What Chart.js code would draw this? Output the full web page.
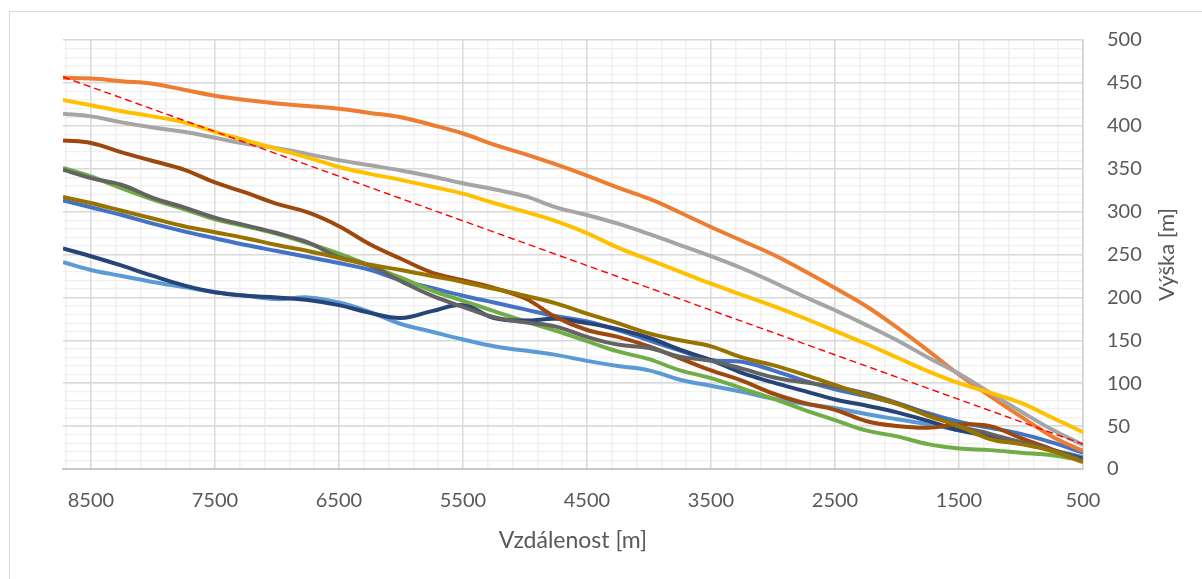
<!DOCTYPE html>
<html>
<head>
<meta charset="utf-8">
<title>Výška / vzdálenost</title>
<script src="https://cdn.jsdelivr.net/npm/chart.js@4.4.1/dist/chart.umd.min.js"></script>
<style>
  html, body { margin: 0; padding: 0; background: #fff; }
  #wrap { width: 1202px; height: 579px; }
</style>
</head>
<body>
<div id="wrap"><canvas id="c" width="1202" height="579"></canvas></div>
<script>
// distance along the profile [m] - axis runs from 8725 (left) down to 500 (right)
const distances = [8725, 8500, 8250, 8000, 7750, 7500, 7250, 7000, 6750, 6500, 6250, 6000,
  5750, 5500, 5250, 5000, 4750, 4500, 4250, 4000, 3750, 3500, 3250, 3000, 2750, 2500,
  2250, 2000, 1750, 1500, 1250, 1000, 750, 500];

// heights [m], one array per profile
const profile1 = [313, 305, 296, 286, 277, 269, 261, 254, 247, 240, 232, 220, 211, 202, 194, 186, 178,
  172, 162, 150, 138, 127, 125, 115, 103, 93, 85, 76, 65, 55, 48, 41, 31, 19];
const profile2 = [456, 455, 452, 449, 442, 435, 430, 426, 423, 420, 415, 410, 401, 391, 378, 367, 355,
  342, 328, 315, 299, 282, 266, 250, 231, 211, 190, 165, 138, 110, 85, 61, 38, 21];
const profile3 = [414, 411, 404, 398, 393, 386, 379, 374, 367, 360, 354, 348, 341, 333, 326, 318, 305,
  296, 286, 274, 261, 248, 234, 218, 201, 185, 168, 150, 130, 111, 89, 67, 46, 28];
const profile4 = [430, 424, 417, 411, 404, 393, 383, 373, 363, 352, 344, 337, 329, 321, 310, 300, 289,
  275, 258, 244, 230, 216, 203, 190, 176, 161, 146, 130, 114, 100, 89, 77, 60, 43];
const profile5 = [241, 232, 225, 218, 212, 206, 202, 198, 200, 194, 183, 169, 160, 151, 143, 138, 133,
  126, 120, 115, 104, 97, 90, 82, 76, 71, 64, 58, 52, 45, 37, 30, 22, 14];
const profile6 = [351, 341, 327, 314, 303, 291, 283, 274, 263, 251, 237, 223, 208, 196, 184, 172, 161,
  149, 137, 128, 115, 106, 94, 82, 69, 57, 45, 38, 29, 24, 22, 19, 16, 10];
const profile7 = [257, 248, 237, 225, 214, 206, 202, 200, 197, 191, 182, 176, 184, 191, 176, 173, 175,
  170, 163, 153, 139, 127, 112, 101, 91, 81, 74, 66, 56, 45, 39, 31, 22, 12];
const profile8 = [383, 380, 369, 359, 349, 334, 322, 309, 299, 283, 262, 245, 229, 220, 211, 199, 177,
  162, 154, 143, 129, 115, 103, 88, 77, 69, 56, 50, 48, 52, 50, 36, 23, 10];
const profile9 = [349, 339, 331, 316, 305, 293, 284, 275, 264, 247, 237, 219, 202, 189, 177, 171, 166,
  154, 145, 141, 131, 126, 117, 107, 101, 96, 88, 77, 64, 50, 41, 31, 22, 10];
const profile10 = [317, 310, 301, 292, 283, 276, 269, 261, 254, 246, 238, 232, 225, 218, 210, 202, 193,
  181, 170, 158, 150, 143, 130, 121, 110, 98, 86, 76, 62, 50, 35, 29, 21, 8];

// red dashed reference line (start / end)
const refDistances = [8725, 500];
const refHeights = [457, 29];

// axis ticks: labelled every 1000 m / 50 m, light grid every 200 m / 10 m
const xTicks = [];
for (let v = 500; v <= 8700; v += 200) xTicks.push(v);
const yMajorTicks = [0, 50, 100, 150, 200, 250, 300, 350, 400, 450, 500];
const yMinorTicks = [];
for (let v = 0; v <= 500; v += 10) yMinorTicks.push(v);
const isMajorX = v => (v - 500) % 1000 === 0;

const profiles = [profile1, profile2, profile3, profile4, profile5, profile6, profile7, profile8, profile9, profile10];
const colors = ['#4472C4', '#ED7D31', '#A5A5A5', '#FFC000', '#5B9BD5', '#70AD47', '#264478', '#9E480E', '#636363', '#997300'];

const FONT = 'Lato, "Open Sans", sans-serif';
const TEXT = '#595959';
const MAJOR = '#d9d9d9';
const MINOR = '#f0f0f0';
Chart.defaults.font.family = FONT;

const toPoints = (xs, ys) => xs.map((x, i) => ({ x, y: ys[i] }));

const datasets = profiles.map((vals, i) => ({
  label: 'Profil ' + (i + 1),
  data: toPoints(distances, vals),
  borderColor: colors[i],
  backgroundColor: colors[i],
  borderWidth: 4,
  tension: 0.4,
  pointRadius: 0,
  fill: false,
  order: 20 - i          // later series on top, like the original
}));
datasets.push({
  label: 'Spojnice',
  data: toPoints(refDistances, refHeights),
  borderColor: '#FF0000',
  borderWidth: 1.4,
  borderDash: [7, 4],
  pointRadius: 0,
  tension: 0,
  fill: false,
  order: 0
});

const framePlugin = {
  id: 'frame',
  beforeDraw(chart) {
    const ctx = chart.ctx;
    ctx.save();
    ctx.fillStyle = '#fff';
    ctx.fillRect(0, 0, chart.width, chart.height);
    ctx.strokeStyle = '#d9d9d9';
    ctx.lineWidth = 1;
    ctx.strokeRect(9.5, 11.5, 1300, 700);
    ctx.restore();
  }
};

// right-hand axis title reads bottom-to-top
const yTitlePlugin = {
  id: 'yTitle',
  afterDraw(chart) {
    const t = chart.options.scales.y.title;
    const ca = chart.chartArea;
    const ctx = chart.ctx;
    ctx.save();
    ctx.translate(chart.scales.y.right - 35, (ca.top + ca.bottom) / 2);
    ctx.rotate(-Math.PI / 2);
    ctx.font = '22px ' + FONT;
    ctx.fillStyle = TEXT;
    ctx.textAlign = 'center';
    ctx.textBaseline = 'middle';
    ctx.fillText(t.text, 0, 0);
    ctx.restore();
  }
};

new Chart(document.getElementById('c'), {
  type: 'line',
  data: { datasets },
  options: {
    responsive: false,
    animation: false,
    layout: { padding: { left: 63, top: 40, right: 0, bottom: 0 } },
    plugins: { legend: { display: false }, tooltip: { enabled: false } },
    scales: {
      x: {
        type: 'linear',
        reverse: true,
        min: 500,
        max: 8725,
        afterBuildTicks: s => { s.ticks = xTicks.map(v => ({ value: v })); },
        afterFit: s => { s.height = 110; },
        ticks: {
          color: TEXT, font: { size: 20 }, padding: 20,
          maxRotation: 0, minRotation: 0, autoSkip: false,
          callback: v => isMajorX(v) ? String(v) : ''
        },
        grid: {
          color: c => (c.tick && isMajorX(c.tick.value)) ? MAJOR : MINOR,
          lineWidth: 1.5,
          drawTicks: false,
          z: -1
        },
        border: { color: '#c8c8c8', width: 2 },
        title: { display: true, text: 'Vzdálenost [m]', color: TEXT, font: { size: 23 }, padding: { top: 0, bottom: 25 } }
      },
      y: {
        type: 'linear',
        position: 'right',
        min: 0,
        max: 500,
        afterBuildTicks: s => { s.ticks = yMajorTicks.map(v => ({ value: v })); },
        afterFit: s => { s.width = 119; },
        ticks: { color: TEXT, font: { size: 20 }, padding: 24, callback: v => String(v) },
        grid: { color: MAJOR, lineWidth: 1.5, drawTicks: false, z: -0.5 },
        border: { color: '#d0d0d0', width: 1.5 },
        title: { display: false, text: 'Výška [m]' }
      },
      yMinor: {
        type: 'linear',
        position: 'right',
        min: 0,
        max: 500,
        afterBuildTicks: s => { s.ticks = yMinorTicks.map(v => ({ value: v })); },
        afterFit: s => { s.width = 0; },
        ticks: { display: false },
        grid: { color: MINOR, lineWidth: 1.2, drawTicks: false, z: -2 },
        border: { display: false }
      }
    }
  },
  plugins: [framePlugin, yTitlePlugin]
});
</script>
</body>
</html>
